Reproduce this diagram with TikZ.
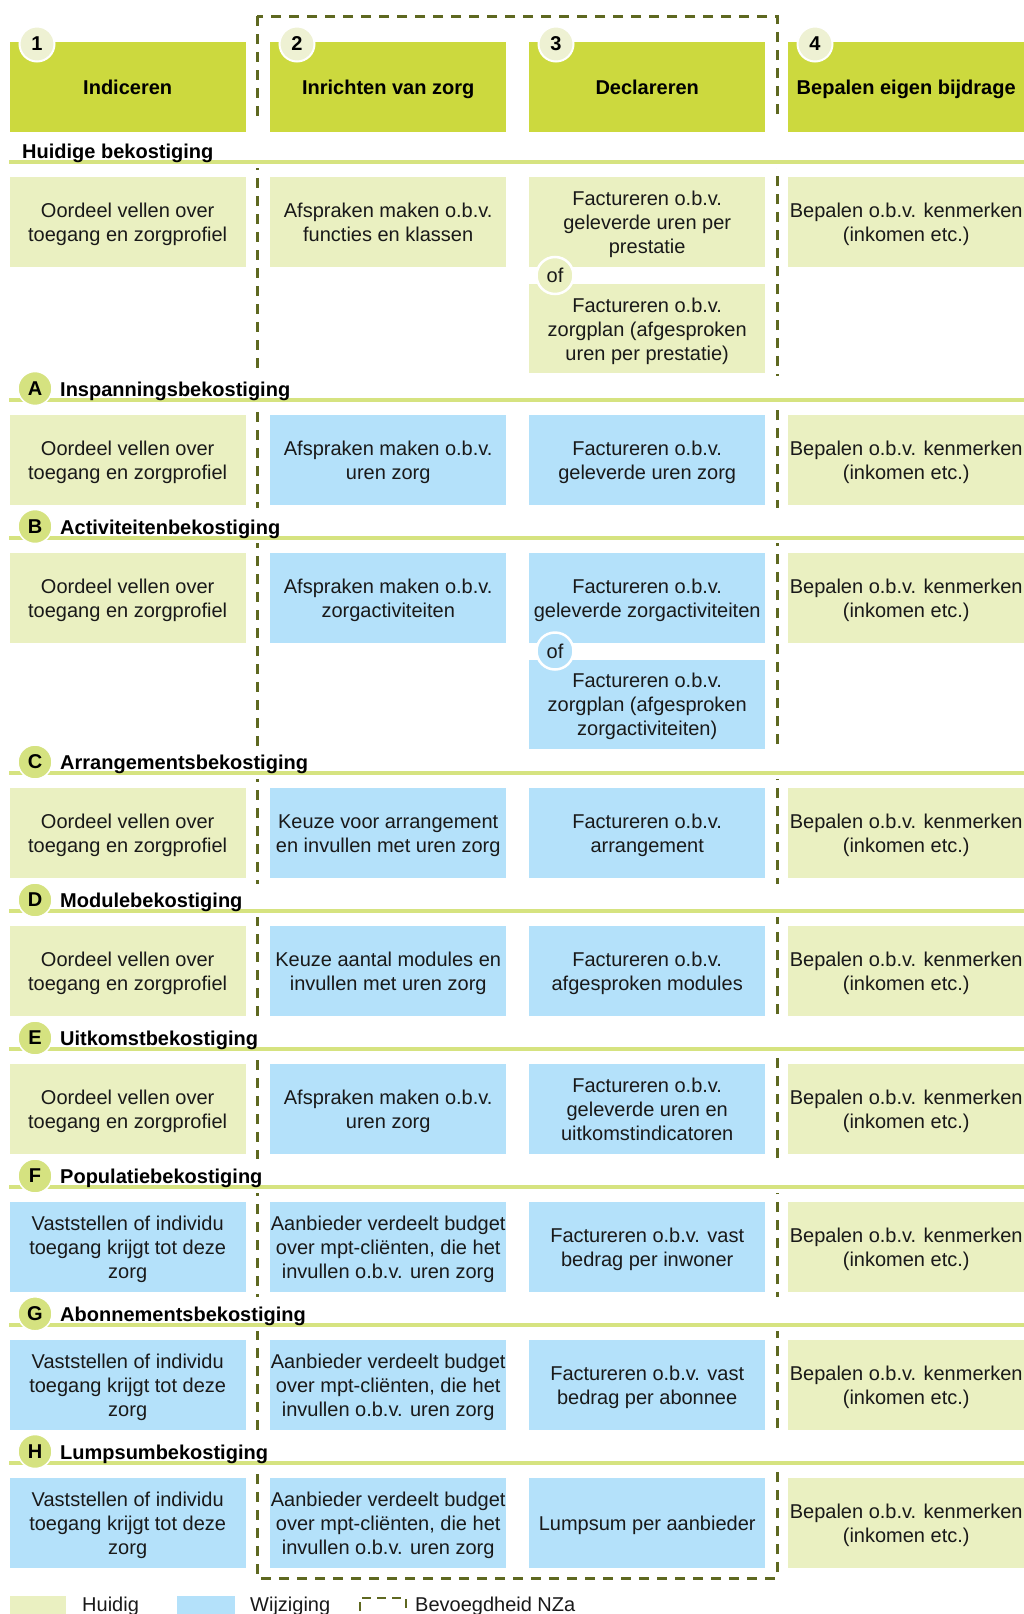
\documentclass[tikz,border=0pt]{standalone}
\usepackage{fontspec}
\setmainfont{Liberation Sans}
\definecolor{hdr}{RGB}{204,217,62}
\definecolor{lgreen}{RGB}{234,240,193}
\definecolor{lblue}{RGB}{180,225,250}
\definecolor{sepc}{RGB}{214,227,128}
\definecolor{circN}{RGB}{238,241,211}
\definecolor{circL}{RGB}{213,226,128}
\definecolor{olive}{RGB}{94,104,32}
\definecolor{txt}{RGB}{25,25,25}
\newcommand{\ct}[1]{\begin{tabular}{@{}c@{}}\rule{0pt}{21.8pt}#1\end{tabular}}
\tikzset{
 cellbase/.style={anchor=north west, minimum width=236pt, minimum height=90pt, inner sep=0pt, text=txt, font=\fontsize{20}{24}\selectfont},
 cellG/.style={cellbase, fill=lgreen},
 cellB/.style={cellbase, fill=lblue},
 cellGs/.style={cellG, minimum height=89pt},
 cellBs/.style={cellB, minimum height=89pt},
 hdrbox/.style={anchor=north west, minimum width=236pt, minimum height=90pt, inner sep=0pt, fill=hdr, text=black, font=\fontsize{20}{24}\selectfont\bfseries},
 numcirc/.style={circle, minimum size=35pt, inner sep=0pt, fill=circN, draw=white, line width=2pt, text=black, font=\fontsize{20}{24}\selectfont\bfseries},
 letcirc/.style={circle, minimum size=34pt, inner sep=0pt, fill=circL, draw=white, line width=1.5pt, text=black, font=\fontsize{20}{24}\selectfont\bfseries},
 ofcirc/.style={circle, minimum size=37pt, inner sep=0pt, draw=white, line width=2.5pt, text=txt, font=\fontsize{20}{24}\selectfont},
 sepline/.style={draw=sepc, line width=4pt},
 rowlbl/.style={anchor=base west, inner sep=0pt, text=black, font=\fontsize{20}{24}\selectfont\bfseries},
 nza/.style={draw=olive, line width=3pt, dash pattern=on 10pt off 8pt},
 legtxt/.style={anchor=base west, inner sep=0pt, text=txt, font=\fontsize{20}{24}\selectfont},
 legsw/.style={anchor=north west, inner sep=0pt, minimum width=56pt, minimum height=24pt}
}
\begin{document}
\begin{tikzpicture}[x=1pt,y=-1pt]
\useasboundingbox (0,0) rectangle (1024,1614);
\clip (0,0) rectangle (1024,1614);
\fill[white] (0,0) rectangle (1024,1614);
% header
\node[hdrbox] (h1) at (9.5,42) {\ct{Indiceren}};
\node[hdrbox] (h2) at (270,42) {\ct{Inrichten van zorg}};
\node[hdrbox] (h3) at (529,42) {\ct{Declareren}};
\node[hdrbox] (h4) at (788,42) {\ct{Bepalen eigen bijdrage}};
\node[numcirc] (n1) at (37,44) {1};
\node[numcirc] (n2) at (297,44) {2};
\node[numcirc] (n3) at (556,44) {3};
\node[numcirc] (n4) at (815,44) {4};
% NZa dashed frame
\draw[nza] (257,16) rectangle (777,1578);
\foreach \a/\b in {120/168, 376/405, 508/543, 750/779, 884/917, 1021.7/1055, 1159.4/1193, 1297.1/1330.5, 1434.8/1468}{
  \fill[white] (252,\a) rectangle (262,\b);
  \fill[white] (772,\a) rectangle (782,\b);
}
% separator lines
\foreach \L in {162, 399.5, 537.5, 773, 911, 1049, 1187, 1324.8, 1462.5}{
  \draw[sepline] (9,\L) -- (1024,\L);
}
% row labels
\node[rowlbl] (l0) at (22,158.5) {Huidige bekostiging};
\node[letcirc] (cA) at (35,388.5) {A};
\node[rowlbl] (lA) at (60,396) {Inspanningsbekostiging};
\node[letcirc] (cB) at (35,526.5) {B};
\node[rowlbl] (lB) at (60,534) {Activiteitenbekostiging};
\node[letcirc] (cC) at (35,762) {C};
\node[rowlbl] (lC) at (60,769.5) {Arrangementsbekostiging};
\node[letcirc] (cD) at (35,900) {D};
\node[rowlbl] (lD) at (60,907.5) {Modulebekostiging};
\node[letcirc] (cE) at (35,1038) {E};
\node[rowlbl] (lE) at (60,1045.5) {Uitkomstbekostiging};
\node[letcirc] (cF) at (35,1176) {F};
\node[rowlbl] (lF) at (60,1183.5) {Populatiebekostiging};
\node[letcirc] (cG) at (35,1313.8) {G};
\node[rowlbl] (lG) at (60,1321.3) {Abonnementsbekostiging};
\node[letcirc] (cH) at (35,1451.5) {H};
\node[rowlbl] (lH) at (60,1459) {Lumpsumbekostiging};
% Huidige
\node[cellG] (r0c1) at (9.5,177) {\ct{Oordeel vellen over\\toegang en zorgprofiel}};
\node[cellG] (r0c2) at (270,177) {\ct{Afspraken maken o.b.v.\\functies en klassen}};
\node[cellG] (r0c3a) at (529,177) {\ct{Factureren o.b.v.\\geleverde uren per\\prestatie}};
\node[cellGs] (r0c3b) at (529,284) {\ct{Factureren o.b.v.\\zorgplan (afgesproken\\uren per prestatie)}};
\node[ofcirc, fill=lgreen] (of0) at (555,275.5) {of};
\node[cellG] (r0c4) at (788,177) {\ct{Bepalen o.b.v. kenmerken\\(inkomen etc.)}};
% A
\node[cellG] (rAc1) at (9.5,414.5) {\ct{Oordeel vellen over\\toegang en zorgprofiel}};
\node[cellB] (rAc2) at (270,414.5) {\ct{Afspraken maken o.b.v.\\uren zorg}};
\node[cellB] (rAc3) at (529,414.5) {\ct{Factureren o.b.v.\\geleverde uren zorg}};
\node[cellG] (rAc4) at (788,414.5) {\ct{Bepalen o.b.v. kenmerken\\(inkomen etc.)}};
% B
\node[cellG] (rBc1) at (9.5,552.5) {\ct{Oordeel vellen over\\toegang en zorgprofiel}};
\node[cellB] (rBc2) at (270,552.5) {\ct{Afspraken maken o.b.v.\\zorgactiviteiten}};
\node[cellB] (rBc3a) at (529,552.5) {\ct{Factureren o.b.v.\\geleverde zorgactiviteiten}};
\node[cellBs] (rBc3b) at (529,659.5) {\ct{Factureren o.b.v.\\zorgplan (afgesproken\\zorgactiviteiten)}};
\node[ofcirc, fill=lblue] (ofB) at (555,651) {of};
\node[cellG] (rBc4) at (788,552.5) {\ct{Bepalen o.b.v. kenmerken\\(inkomen etc.)}};
% C
\node[cellG] (rCc1) at (9.5,788) {\ct{Oordeel vellen over\\toegang en zorgprofiel}};
\node[cellB] (rCc2) at (270,788) {\ct{Keuze voor arrangement\\en invullen met uren zorg}};
\node[cellB] (rCc3) at (529,788) {\ct{Factureren o.b.v.\\arrangement}};
\node[cellG] (rCc4) at (788,788) {\ct{Bepalen o.b.v. kenmerken\\(inkomen etc.)}};
% D
\node[cellG] (rDc1) at (9.5,926) {\ct{Oordeel vellen over\\toegang en zorgprofiel}};
\node[cellB] (rDc2) at (270,926) {\ct{Keuze aantal modules en\\invullen met uren zorg}};
\node[cellB] (rDc3) at (529,926) {\ct{Factureren o.b.v.\\afgesproken modules}};
\node[cellG] (rDc4) at (788,926) {\ct{Bepalen o.b.v. kenmerken\\(inkomen etc.)}};
% E
\node[cellG] (rEc1) at (9.5,1064) {\ct{Oordeel vellen over\\toegang en zorgprofiel}};
\node[cellB] (rEc2) at (270,1064) {\ct{Afspraken maken o.b.v.\\uren zorg}};
\node[cellB] (rEc3) at (529,1064) {\ct{Factureren o.b.v.\\geleverde uren en\\uitkomstindicatoren}};
\node[cellG] (rEc4) at (788,1064) {\ct{Bepalen o.b.v. kenmerken\\(inkomen etc.)}};
% F
\node[cellB] (rFc1) at (9.5,1202) {\ct{Vaststellen of individu\\toegang krijgt tot deze\\zorg}};
\node[cellB] (rFc2) at (270,1202) {\ct{Aanbieder verdeelt budget\\over mpt-cliënten, die het\\invullen o.b.v. uren zorg}};
\node[cellB] (rFc3) at (529,1202) {\ct{Factureren o.b.v. vast\\bedrag per inwoner}};
\node[cellG] (rFc4) at (788,1202) {\ct{Bepalen o.b.v. kenmerken\\(inkomen etc.)}};
% G
\node[cellB] (rGc1) at (9.5,1339.8) {\ct{Vaststellen of individu\\toegang krijgt tot deze\\zorg}};
\node[cellB] (rGc2) at (270,1339.8) {\ct{Aanbieder verdeelt budget\\over mpt-cliënten, die het\\invullen o.b.v. uren zorg}};
\node[cellB] (rGc3) at (529,1339.8) {\ct{Factureren o.b.v. vast\\bedrag per abonnee}};
\node[cellG] (rGc4) at (788,1339.8) {\ct{Bepalen o.b.v. kenmerken\\(inkomen etc.)}};
% H
\node[cellB] (rHc1) at (9.5,1477.5) {\ct{Vaststellen of individu\\toegang krijgt tot deze\\zorg}};
\node[cellB] (rHc2) at (270,1477.5) {\ct{Aanbieder verdeelt budget\\over mpt-cliënten, die het\\invullen o.b.v. uren zorg}};
\node[cellB] (rHc3) at (529,1477.5) {\ct{Lumpsum per aanbieder}};
\node[cellG] (rHc4) at (788,1477.5) {\ct{Bepalen o.b.v. kenmerken\\(inkomen etc.)}};
% legend
\node[legsw, fill=lgreen] (sw1) at (10,1596) {};
\node[legtxt] (lg1) at (82,1611) {Huidig};
\node[legsw, fill=lblue, minimum width=58pt] (sw2) at (177,1596) {};
\node[legtxt] (lg2) at (250,1611) {Wijziging};
\coordinate (d1) at (360,1626);
\coordinate (d2) at (360,1598);
\coordinate (d3) at (406,1598);
\coordinate (d4) at (406,1626);
\draw[draw=olive, line width=2.2pt, dash pattern=on 9pt off 6pt] (d1) -- (d2) -- (d3) -- (d4);
\node[legtxt] (lg3) at (415,1611) {Bevoegdheid NZa};
\end{tikzpicture}
\end{document}
